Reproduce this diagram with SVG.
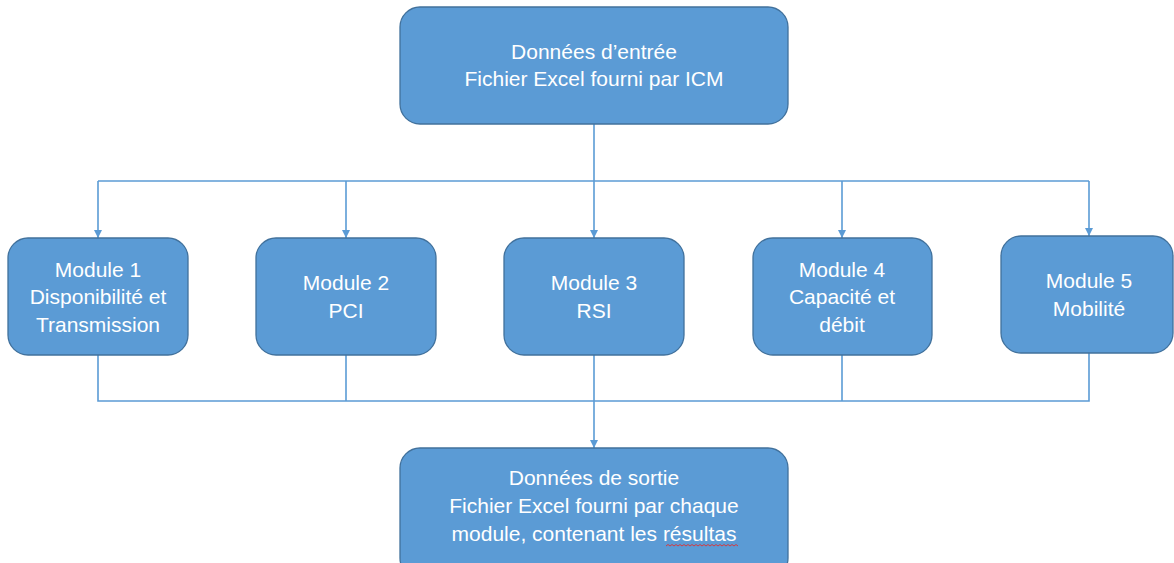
<svg xmlns="http://www.w3.org/2000/svg" width="1174" height="563" viewBox="0 0 1174 563">
  <style>
    .box { fill: #5b9bd5; stroke: #41719c; stroke-width: 1.3; }
    .lbl { fill: #ffffff; font-family: "Liberation Sans", Arial, sans-serif; font-size: 21px; text-anchor: middle; }
    .wire { fill: none; stroke: #5b9bd5; stroke-width: 1.6; }
  </style>
  <defs>
    <marker id="arrow" viewBox="0 0 10 10" refX="10" refY="5" markerWidth="5" markerHeight="5" markerUnits="strokeWidth" orient="auto">
      <path d="M0,0 L10,5 L0,10 Z" fill="#5b9bd5"/>
    </marker>
  </defs>
  <rect width="1174" height="563" fill="#ffffff"/>

  <g id="connectors">
    <!-- input fan-out -->
    <path class="wire" d="M594,124 V181"/>
    <path class="wire" d="M98,181 H1089"/>
    <path class="wire" d="M98,181 V238" marker-end="url(#arrow)"/>
    <path class="wire" d="M346,181 V238" marker-end="url(#arrow)"/>
    <path class="wire" d="M594,181 V238" marker-end="url(#arrow)"/>
    <path class="wire" d="M842,181 V238" marker-end="url(#arrow)"/>
    <path class="wire" d="M1089,181 V236" marker-end="url(#arrow)"/>
    <!-- output fan-in -->
    <path class="wire" d="M98,355 V401 H1089 V353"/>
    <path class="wire" d="M346,355 V401"/>
    <path class="wire" d="M842,355 V401"/>
    <path class="wire" d="M594,355 V448" marker-end="url(#arrow)"/>
  </g>

  <g id="input">
    <rect class="box" x="400" y="7" width="388" height="117" rx="20"/>
    <text class="lbl" x="594" y="59">Données d’entrée</text>
    <text class="lbl" x="594" y="86">Fichier Excel fourni par ICM</text>
  </g>

  <g id="module1">
    <rect class="box" x="8" y="238" width="180" height="117" rx="20"/>
    <text class="lbl" x="98" y="277">Module 1</text>
    <text class="lbl" x="98" y="304">Disponibilité et</text>
    <text class="lbl" x="98" y="332">Transmission</text>
  </g>

  <g id="module2">
    <rect class="box" x="256" y="238" width="180" height="117" rx="20"/>
    <text class="lbl" x="346" y="290">Module 2</text>
    <text class="lbl" x="346" y="318">PCI</text>
  </g>

  <g id="module3">
    <rect class="box" x="504" y="238" width="180" height="117" rx="20"/>
    <text class="lbl" x="594" y="290">Module 3</text>
    <text class="lbl" x="594" y="318">RSI</text>
  </g>

  <g id="module4">
    <rect class="box" x="753" y="238" width="179" height="117" rx="20"/>
    <text class="lbl" x="842" y="277">Module 4</text>
    <text class="lbl" x="842" y="304">Capacité et</text>
    <text class="lbl" x="842" y="332">débit</text>
  </g>

  <g id="module5">
    <rect class="box" x="1001" y="236" width="172" height="117" rx="20"/>
    <text class="lbl" x="1089" y="288">Module 5</text>
    <text class="lbl" x="1089" y="316">Mobilité</text>
  </g>

  <g id="output">
    <rect class="box" x="400" y="448" width="388" height="130" rx="20"/>
    <text class="lbl" x="594" y="485">Données de sortie</text>
    <text class="lbl" x="594" y="513">Fichier Excel fourni par chaque</text>
    <text class="lbl" x="594" y="541">module, contenant les résultas</text>
    <!-- spell-check squiggle -->
    <path d="M666,546 l2,-1.5 l2,1.5 l2,-1.5 l2,1.5 l2,-1.5 l2,1.5 l2,-1.5 l2,1.5 l2,-1.5 l2,1.5 l2,-1.5 l2,1.5 l2,-1.5 l2,1.5 l2,-1.5 l2,1.5 l2,-1.5 l2,1.5 l2,-1.5 l2,1.5 l2,-1.5 l2,1.5 l2,-1.5 l2,1.5 l2,-1.5 l2,1.5 l2,-1.5 l2,1.5 l2,-1.5 l2,1.5 l2,-1.5 l2,1.5 l2,-1.5 l2,1.5 l2,-1.5 l2,1.5" fill="none" stroke="#e03030" stroke-width="0.9"/>
  </g>
</svg>
